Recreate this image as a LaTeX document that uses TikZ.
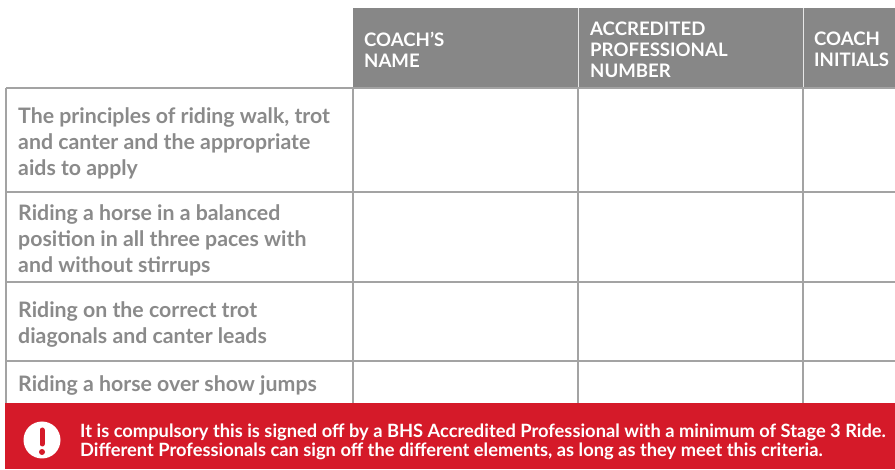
\documentclass[tikz,border=0pt]{standalone}
\usepackage{fontspec}
\setmainfont{Lato}
\definecolor{hdrgray}{HTML}{878787}
\definecolor{txtgray}{HTML}{8A8A8A}
\definecolor{linegray}{HTML}{A3A3A3}
\definecolor{alertred}{HTML}{D51A29}

\begin{document}
\begin{tikzpicture}
[x=1pt, y=-1pt, every node/.style={inner sep=0pt, anchor=west, align=left},
hdr/.style={text=white, font=\fontsize{18.6}{21}\selectfont\bfseries},
crit/.style={text=txtgray, font=\fontsize{21.3}{26}\selectfont\bfseries},
alert/.style={text=white, font=\fontsize{18.3}{19.5}\selectfont\bfseries},
grid line/.style={draw=linegray, line width=1.5pt}]
\useasboundingbox (0,0) rectangle (895,470);
% header band
\fill[hdrgray] (353,8) rectangle (895,88);
\draw[white!80!hdrgray, line width=1pt] (578,8) -- (578,88) (803,8) -- (803,88);
\node[hdr] (coachname) at (364,49.5) {COACH’S\\NAME};
\node[hdr] (apnumber) at (590,49.5) {ACCREDITED\\PROFESSIONAL\\NUMBER};
\node[hdr] (initials) at (814,49.5) {COACH\\INITIALS};
% grid
\foreach \y in {88,192,282,361}
  \draw[grid line] (6,\y) -- (895,\y);
\foreach \x in {6,353,578,803}
  \draw[grid line] (\x,88) -- (\x,403);
% criteria
\node[crit] (paces) at (18,143) {The principles of riding walk, trot\\and canter and the appropriate\\aids to apply};
\node[crit] (balance) at (18,240.5) {Riding a horse in a balanced\\position in all three paces with\\and without stirrups};
\node[crit] (diagonals) at (18,325) {Riding on the correct trot\\diagonals and canter leads};
\node[crit] (jumps) at (18,386) {Riding a horse over show jumps};
% alert band
\fill[alertred] (5.25,403) rectangle (895,469);
\fill[white] (42,440) circle (18.5pt);
\draw[alertred, line width=5pt, line cap=round] (42,430) -- (42,444);
\fill[alertred] (42,452) circle (3pt);
\node[alert] (note) at (80,442) {It is compulsory this is signed off by a BHS Accredited Professional with a minimum of Stage 3 Ride.\\Different Professionals can sign off the different elements, as long as they meet this criteria.};
\end{tikzpicture}
\end{document}
